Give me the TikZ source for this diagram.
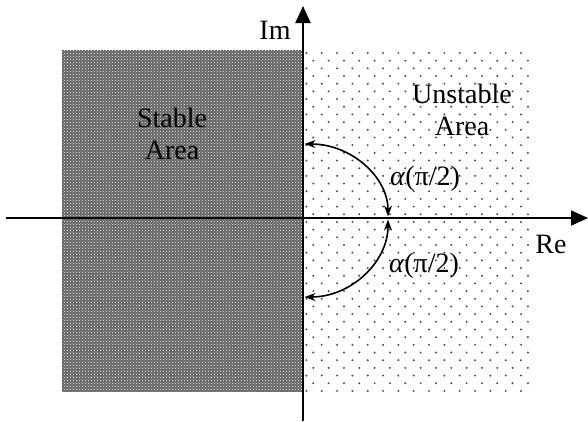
\documentclass[tikz,border=0pt]{standalone}
\usepackage{fontspec}
\setmainfont{Liberation Serif}
\usetikzlibrary{arrows.meta,patterns}
\begin{document}
\begin{tikzpicture}[x=1pt,y=-1pt,
  lbl/.style={inner sep=0pt,anchor=base,font=\fontsize{28}{32}\selectfont},
  axis/.style={line width=2pt,-{Triangle[length=17pt,width=15pt]}},
  angarc/.style={line width=1.6pt,{Stealth[length=11pt,width=8pt]}-{Stealth[length=11pt,width=8pt]}},
  dotc/.style={fill=black!70}]
\useasboundingbox (0,0) rectangle (588,421);

% stable half plane, dark with a fine dot texture
\fill[black!62] (62,50) rectangle (303,392);
\fill[pattern=crosshatch dots,pattern color=white!75] (62,50) rectangle (303,392);

% dotted unstable half plane
\foreach \r in {0,...,44}{
  \pgfmathsetmacro{\yy}{53+\r*7.68}
  \ifodd\r
    \foreach \c in {0,...,14}{\fill[dotc] (313.3+\c*15.33,\yy) circle[radius=1.1];}
  \else
    \foreach \c in {0,...,14}{\fill[dotc] (306.4+\c*15.33,\yy) circle[radius=1.1];}
  \fi
}

% axes
\coordinate (xs) at (6,218);
\coordinate (xe) at (588,218);
\coordinate (ys) at (303,421);
\coordinate (ye) at (303,6);
\draw[axis] (xs) -- (xe);
\draw[axis] (ys) -- (ye);

% angle arcs
\coordinate (p0) at (388,216.5);
\coordinate (q0) at (388,219.5);
\coordinate (pu) at (304.5,144);
\coordinate (pd) at (304.5,297);
\draw[angarc] (pu) .. controls (351,144) and (388,177) .. (p0);
\draw[angarc] (q0) .. controls (388,262) and (351,297) .. (pd);

% labels
\node[lbl] (im) at (275,39) {Im};
\node[lbl] (re) at (551,253) {Re};
\node[lbl] (st1) at (172,127) {Stable};
\node[lbl] (st2) at (172,159) {Area};
\node[lbl] (un1) at (462,103) {Unstable};
\node[lbl] (un2) at (462,135) {Area};
\node[lbl] (a1) at (425,185) {\textit{α}(π/2)};
\node[lbl] (a2) at (424,272) {\textit{α}(π/2)};
\end{tikzpicture}
\end{document}
